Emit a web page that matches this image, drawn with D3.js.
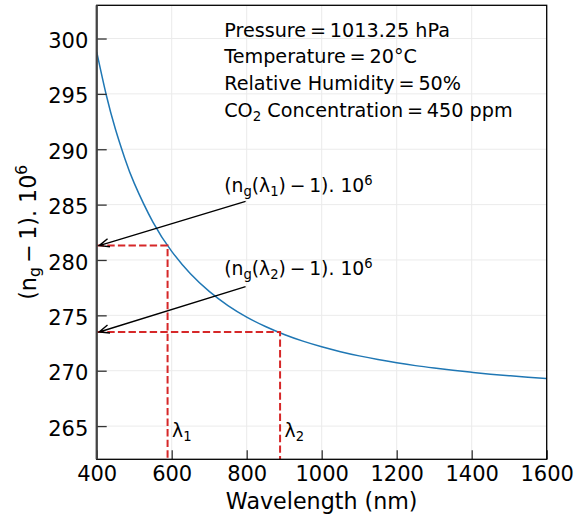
<!DOCTYPE html>
<html><head><meta charset="utf-8">
<script src="https://cdn.jsdelivr.net/npm/d3@7"></script>
<style>
body{margin:0;background:#fff}
text{font-family:"DejaVu Sans",sans-serif;fill:#000;white-space:pre}
</style>
</head><body><svg id="c" width="576" height="515"></svg>
<script>
// ---- data ----
const wavelengths = [400,425,450,475,500,550,600,650,700,750,800,850,900,950,1000,1050,1100,1150,1200,1250,1300,1350,1400,1450,1500,1550,1600];
const groupRefractivity = [298.79,294.97,291.81,289.17,286.94,283.42,280.78,278.75,277.16,275.88,274.84,273.99,273.27,272.67,272.16,271.72,271.34,271.01,270.72,270.46,270.24,270.04,269.86,269.69,269.55,269.42,269.30];
const markerLambdas = [589, 889];
const markerValues = [281.3, 273.5];
const markerNames = ["1", "2"];
const xTicks = [400,600,800,1000,1200,1400,1600];
const yTicks = [265,270,275,280,285,290,295,300];
const xDomain = [400,1600];
const yDomain = [262,303];
const conditions = [
  [{t:"Pressure\u2009=\u20091013.25 hPa"}],
  [{t:"Temperature\u2009=\u200920°C"}],
  [{t:"Relative Humidity\u2009=\u200950%"}],
  [{t:"CO"},{t:"2",s:"sub"},{t:" Concentration\u2009=\u2009450 ppm"}]
];
const annoTextPos = [[740, 286.1],[740, 278.6]];
const annoTail = [[797, 285.3],[797, 277.6]];

// ---- layout ----
const svg = d3.select("#c");
const L = 96.7, R = 546.7, T = 5.3, B = 459.3;
const x = d3.scaleLinear().domain(xDomain).range([L,R]);
const y = d3.scaleLinear().domain(yDomain).range([B,T]);

function mathText(g, px, py, fs, parts){
  const t = g.append("text").attr("x",px).attr("y",py).attr("font-size",fs);
  let cur = 0;
  parts.forEach(p=>{
    const shift = p.s==="sub" ? fs*0.2 : p.s==="sup" ? -fs*0.42 : 0;
    t.append("tspan").attr("dy", shift-cur).attr("font-size", p.s ? fs*0.7 : fs).text(p.t);
    cur = shift;
  });
  return t;
}

// grid
const grid = svg.append("g");
grid.selectAll("line.gx").data(xTicks).join("line")
  .attr("x1",d=>x(d)).attr("x2",d=>x(d)).attr("y1",T).attr("y2",B)
  .attr("stroke","#ebebeb").attr("stroke-width",1);
grid.selectAll("line.gy").data(yTicks).join("line")
  .attr("x1",L).attr("x2",R).attr("y1",d=>y(d)).attr("y2",d=>y(d))
  .attr("stroke","#ebebeb").attr("stroke-width",1);

// curve
const pts = wavelengths.map((w,i)=>[w,groupRefractivity[i]]);
svg.append("path").datum(pts)
  .attr("d", d3.line().x(d=>x(d[0])).y(d=>y(d[1])).curve(d3.curveNatural))
  .attr("fill","none").attr("stroke","#1f77b4").attr("stroke-width",1.5);

// dashed marker lines
markerLambdas.forEach((lam,i)=>{
  const v = markerValues[i];
  svg.append("path")
    .attr("d", `M${x(xDomain[0])},${y(v)}H${x(lam)}V${y(yDomain[0])}`)
    .attr("fill","none").attr("stroke","#d62728").attr("stroke-width",2)
    .attr("stroke-dasharray","7.4,3.2");
  mathText(svg, x(lam)+4.5, 437, 18.8, [{t:"λ"},{t:markerNames[i],s:"sub"}]);
});

// annotations with arrows
markerValues.forEach((v,i)=>{
  const hx = x(xDomain[0])+2.5, hy = y(v);
  const tx = x(annoTail[i][0]), ty = y(annoTail[i][1]);
  const dx = hx-tx, dy = hy-ty, len = Math.hypot(dx,dy);
  const ux = dx/len, uy = dy/len;
  const al = 10, aw = 4.2;
  const bx = hx-ux*al, by = hy-uy*al;
  const p1 = [bx-uy*aw, by+ux*aw], p2 = [bx+uy*aw, by-ux*aw];
  svg.append("path")
    .attr("d", `M${tx},${ty}L${hx},${hy}M${p1[0]},${p1[1]}L${hx},${hy}L${p2[0]},${p2[1]}`)
    .attr("fill","none").attr("stroke","#000").attr("stroke-width",1.4);
  mathText(svg, x(annoTextPos[i][0]), y(annoTextPos[i][1]), 18.8,
    [{t:"(n"},{t:"g",s:"sub"},{t:"(λ"},{t:markerNames[i],s:"sub"},{t:")\u2009−\u20091). 10"},{t:"6",s:"sup"}]);
});

// condition text block
conditions.forEach((parts,i)=>{
  mathText(svg, x(740), 36.7 + i*26.7, 19.2, parts);
});

// axes
const xAxis = d3.axisBottom(x).tickValues(xTicks).tickSize(-9).tickSizeOuter(0).tickPadding(7).tickFormat(d3.format("d"));
const gx = svg.append("g").attr("transform",`translate(0,${B})`).call(xAxis);
gx.select(".domain").remove();
gx.selectAll("text").attr("font-size",21).attr("font-family","DejaVu Sans").attr("fill","#000");
gx.selectAll("line").attr("stroke","#333").attr("stroke-width",1.3);

const yAxis = d3.axisLeft(y).tickValues(yTicks).tickSize(-10).tickSizeOuter(0).tickPadding(8.4).tickFormat(d3.format("d"));
const gy = svg.append("g").attr("transform",`translate(${L},0)`).call(yAxis);
gy.select(".domain").remove();
gy.selectAll("text").attr("font-size",21).attr("font-family","DejaVu Sans").attr("fill","#000").attr("dy","0.43em");
gy.selectAll("line").attr("stroke","#333").attr("stroke-width",1.3);

// spines
svg.append("rect").attr("x",L).attr("y",T).attr("width",R-L).attr("height",B-T)
  .attr("fill","none").attr("stroke","#000").attr("stroke-width",1.3);
svg.append("line").attr("x1",L).attr("x2",L).attr("y1",T).attr("y2",B)
  .attr("stroke","#444").attr("stroke-width",2.2);

// axis labels
svg.append("text").attr("x",(L+R)/2).attr("y",509).attr("text-anchor","middle")
  .attr("font-size",22.2).text("Wavelength (nm)");
const yl = mathText(svg, 0, 0, 22.2, [{t:"(n"},{t:"g",s:"sub"},{t:"\u2009−\u20091). 10"},{t:"6",s:"sup"}]);
yl.attr("text-anchor","middle").attr("transform",`translate(36,${(T+B)/2}) rotate(-90)`);
</script></body></html>
